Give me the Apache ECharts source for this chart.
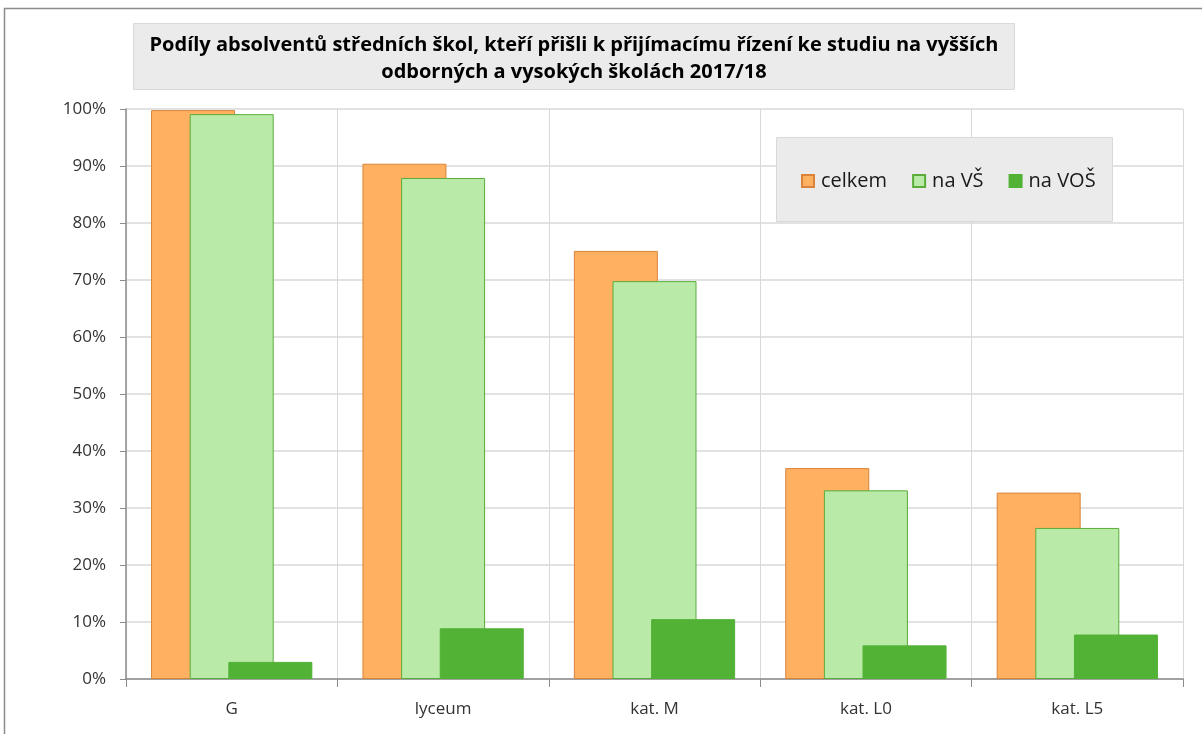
<!DOCTYPE html>
<html>
<head>
<meta charset="utf-8">
<style>
  html, body { margin: 0; padding: 0; background: #fff; }
  #chart { width: 1202px; height: 734px; }
</style>
<script src="https://cdn.jsdelivr.net/npm/echarts@6/dist/echarts.min.js"></script>
</head>
<body>
<div id="chart"></div>
<script>
var categories = ['G', 'lyceum', 'kat. M', 'kat. L0', 'kat. L5'];
var celkem = [99.8, 90.4, 75.1, 37.0, 32.7];
var naVS = [99.1, 87.9, 69.8, 33.1, 26.5];
var naVOS = [3.0, 8.9, 10.5, 5.9, 7.8];
var seriesNames = ['celkem', 'na VŠ', 'na VOŠ'];

var myChart = echarts.init(document.getElementById('chart'));

var font = '"Open Sans", "Noto Sans", sans-serif';

option = {
  animation: false,
  textStyle: { fontFamily: font },
  grid: { left: 126, right: 19, top: 109, bottom: 55 },
  // rámeček, nadpis a pozadí legendy
  graphic: [
    { type: 'rect', silent: true, z: -10,
      shape: { x: 4.5, y: 8.5, width: 1300, height: 800 },
      style: { fill: 'none', stroke: '#8c8c8c', lineWidth: 1.5 } },
    { type: 'rect', silent: true, z: -5,
      shape: { x: 133.5, y: 23.5, width: 881, height: 66 },
      style: { fill: '#ebebeb', stroke: '#d9d9d9', lineWidth: 1 } },
    { type: 'text', silent: true, z: 5,
      style: {
        text: 'Podíly absolventů středních škol, kteří přišli k přijímacímu řízení ke studiu na vyšších\nodborných a vysokých školách 2017/18',
        x: 574, y: 59, align: 'center', verticalAlign: 'middle',
        font: 'bold 20px ' + font, lineHeight: 27, fill: '#000'
      } },
    { type: 'rect', silent: true, z: 1,
      shape: { x: 776.5, y: 137.5, width: 336, height: 84 },
      style: { fill: '#ebebeb', stroke: '#d9d9d9', lineWidth: 1 } }
  ],
  legend: {
    data: seriesNames,
    left: 796, top: 166,
    itemWidth: 12, itemHeight: 12, itemGap: 25,
    icon: 'rect', z: 5,
    textStyle: { fontSize: 20, color: '#1a1a1a', fontFamily: font, padding: [0, 0, 0, 2] }
  },
  xAxis: {
    type: 'category',
    data: categories,
    axisLine: { lineStyle: { color: '#8c8c8c', width: 1.5 } },
    axisTick: { show: true, length: 8, lineStyle: { color: '#8c8c8c' } },
    axisLabel: { fontSize: 17, color: '#333', margin: 22 },
    splitLine: { show: true, lineStyle: { color: '#d9d9d9', width: 1 } }
  },
  yAxis: {
    type: 'value',
    min: 0, max: 100, interval: 10,
    axisLine: { show: true, lineStyle: { color: '#8c8c8c', width: 1.5 } },
    axisTick: { show: true, length: 6, lineStyle: { color: '#8c8c8c' } },
    axisLabel: { fontSize: 17, color: '#333', margin: 20, formatter: '{value}%' },
    splitLine: { lineStyle: { color: '#d9d9d9', width: 1.5 } }
  },
  series: [
    { name: seriesNames[0], type: 'bar', data: celkem, barWidth: 84, barGap: '-54%',
      itemStyle: { color: '#ffb161', borderColor: '#d9843a', borderWidth: 1 } },
    { name: seriesNames[1], type: 'bar', data: naVS, barWidth: 84, barGap: '-54%',
      itemStyle: { color: '#b9eaa8', borderColor: '#5aad3a', borderWidth: 1 } },
    { name: seriesNames[2], type: 'bar', data: naVOS, barWidth: 84, barGap: '-54%',
      itemStyle: { color: '#52b236', borderColor: '#52b236', borderWidth: 1 } }
  ]
};

myChart.setOption(option);

window.addEventListener('resize', function () {
  myChart.resize();
});
</script>
</body>
</html>
